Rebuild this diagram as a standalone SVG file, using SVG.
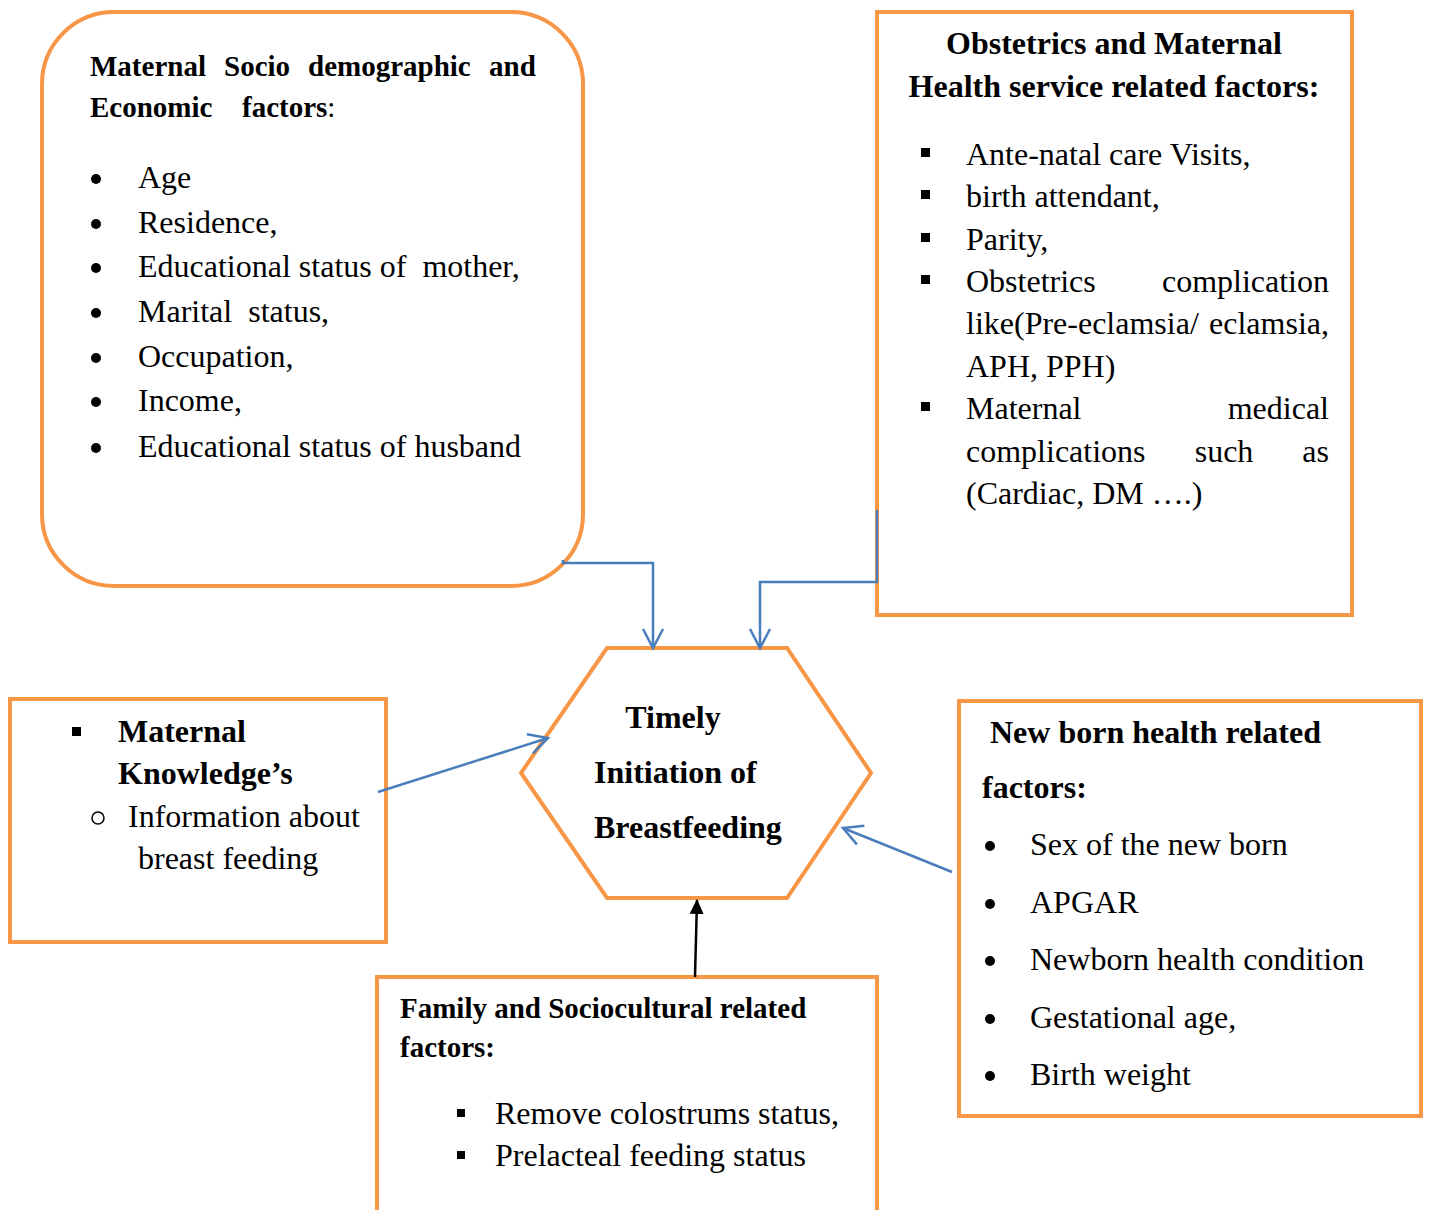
<svg xmlns="http://www.w3.org/2000/svg" width="1430" height="1210" viewBox="0 0 1430 1210">
<style>
.box{fill:#fff;stroke:#F79646;stroke-width:4}
.t{font-family:"Liberation Serif","Times New Roman",serif;font-size:32px;fill:#000}
.b{font-weight:bold}
.s{font-size:29px}
.conn{fill:none;stroke:#4A7EBB;stroke-width:2.5}
</style>
<defs>
<marker id="open" viewBox="0 0 24 24" refX="21" refY="12" markerWidth="24" markerHeight="24" markerUnits="userSpaceOnUse" orient="auto">
<path d="M2,2 L21,12 L2,22" fill="none" stroke="#4A7EBB" stroke-width="2.5"/>
</marker>
<marker id="solid" viewBox="0 0 16 16" refX="14" refY="8" markerWidth="16" markerHeight="16" markerUnits="userSpaceOnUse" orient="auto">
<path d="M0,1 L15,8 L0,15 Z" fill="#000"/>
</marker>
</defs>
<g id="n-maternal-socio">
<rect class="box" x="42" y="12" width="541" height="574" rx="72"/>
<text class="t b s" x="90" y="76">Maternal</text><text class="t b s" x="224" y="76">Socio</text><text class="t b s" x="308" y="76">demographic</text><text class="t b s" x="489" y="76">and</text>
<text class="t s" x="90" y="117"><tspan class="b">Economic</tspan><tspan class="b" x="242">factors</tspan>:</text>
<g fill="#000"><circle cx="96" cy="179" r="5"/><circle cx="96" cy="224" r="5"/><circle cx="96" cy="268" r="5"/><circle cx="96" cy="313" r="5"/><circle cx="96" cy="358" r="5"/><circle cx="96" cy="402" r="5"/><circle cx="96" cy="448" r="5"/></g>
<text class="t" x="138" y="188">Age</text>
<text class="t" x="138" y="233">Residence,</text>
<text class="t" x="138" y="277" xml:space="preserve">Educational status of  mother,</text>
<text class="t" x="138" y="322" xml:space="preserve">Marital  status,</text>
<text class="t" x="138" y="367">Occupation,</text>
<text class="t" x="138" y="411">Income,</text>
<text class="t" x="138" y="457">Educational status of husband</text>
</g>
<g id="n-obstetrics">
<rect class="box" x="877" y="12" width="475" height="603"/>
<text class="t b" x="1114" y="54" text-anchor="middle">Obstetrics and Maternal</text>
<text class="t b" x="1114" y="97" text-anchor="middle">Health service related factors:</text>
<g fill="#000"><rect x="921" y="148" width="9" height="9"/><rect x="921" y="190" width="9" height="9"/><rect x="921" y="233" width="9" height="9"/><rect x="921" y="275" width="9" height="9"/><rect x="921" y="402" width="9" height="9"/></g>
<text class="t" x="966" y="165">Ante-natal care Visits,</text>
<text class="t" x="966" y="207">birth attendant,</text>
<text class="t" x="966" y="250">Parity,</text>
<text class="t" x="966" y="292">Obstetrics</text><text class="t" x="1329" y="292" text-anchor="end">complication</text>
<text class="t" x="966" y="334">like(Pre-eclamsia/</text><text class="t" x="1329" y="334" text-anchor="end">eclamsia,</text>
<text class="t" x="966" y="377">APH, PPH)</text>
<text class="t" x="966" y="419">Maternal</text><text class="t" x="1329" y="419" text-anchor="end">medical</text>
<text class="t" x="966" y="462">complications</text><text class="t" x="1224" y="462" text-anchor="middle">such</text><text class="t" x="1329" y="462" text-anchor="end">as</text>
<text class="t" x="966" y="504">(Cardiac, DM ….)</text>
</g>
<g id="n-timely">
<polygon class="box" points="607,648 787,648 871,773 787,898 607,898 521,773"/>
<text class="t b" x="673" y="728" text-anchor="middle">Timely</text>
<text class="t b" x="594" y="783">Initiation of</text>
<text class="t b" x="594" y="838">Breastfeeding</text>
</g>
<g id="n-knowledge">
<rect class="box" x="10" y="699" width="376" height="243"/>
<rect x="72" y="727" width="9" height="9" fill="#000"/>
<text class="t b" x="118" y="742">Maternal</text>
<text class="t b" x="118" y="784">Knowledge’s</text>
<circle cx="98" cy="818" r="6" fill="none" stroke="#000" stroke-width="1.5"/>
<text class="t" x="128" y="827">Information about</text>
<text class="t" x="138" y="869">breast feeding</text>
</g>
<g id="n-newborn">
<rect class="box" x="959" y="701" width="462" height="415"/>
<text class="t b" x="990" y="743">New born health related</text>
<text class="t b" x="982" y="798">factors:</text>
<g fill="#000"><circle cx="990" cy="846" r="5"/><circle cx="990" cy="904" r="5"/><circle cx="990" cy="961" r="5"/><circle cx="990" cy="1019" r="5"/><circle cx="990" cy="1076" r="5"/></g>
<text class="t" x="1030" y="855">Sex of the new born</text>
<text class="t" x="1030" y="913">APGAR</text>
<text class="t" x="1030" y="970">Newborn health condition</text>
<text class="t" x="1030" y="1028">Gestational age,</text>
<text class="t" x="1030" y="1085">Birth weight</text>
</g>
<g id="n-family">
<path class="box" d="M377,1212 L377,977 L877,977 L877,1212"/>
<text class="t b s" x="400" y="1018">Family and Sociocultural related</text>
<text class="t b s" x="400" y="1057">factors:</text>
<g fill="#000"><rect x="457" y="1109" width="8" height="8"/><rect x="457" y="1151" width="8" height="8"/></g>
<text class="t" x="495" y="1124">Remove colostrums status,</text>
<text class="t" x="495" y="1166">Prelacteal feeding status</text>
</g>
<g id="connectors">
<path class="conn" d="M563,560 L563,563 L653,563 L653,648" marker-end="url(#open)"/>
<path class="conn" d="M877,510 L877,582 L760,582 L760,648" marker-end="url(#open)"/>
<path class="conn" d="M378,792 L548,738" marker-end="url(#open)"/>
<path class="conn" d="M952,872 L843,828" marker-end="url(#open)"/>
<path d="M695,977 L697,900" fill="none" stroke="#000" stroke-width="2.5" marker-end="url(#solid)"/>
</g>
</svg>
